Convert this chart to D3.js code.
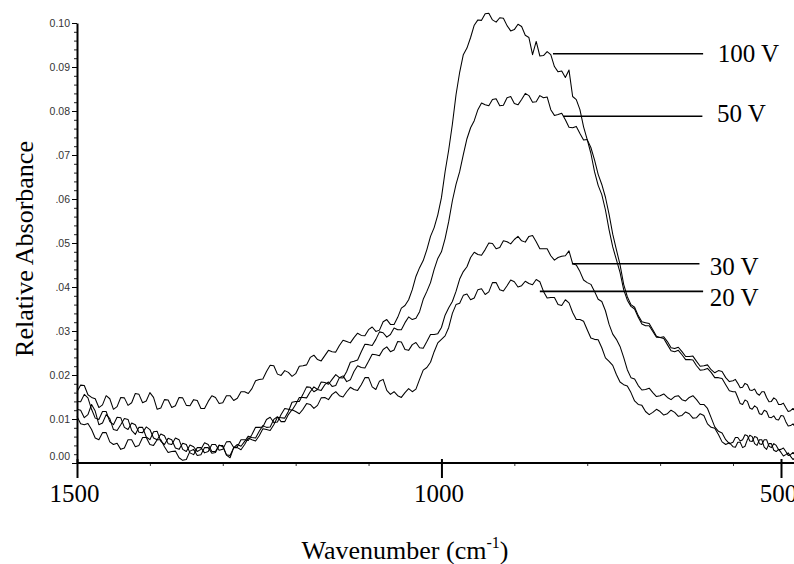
<!DOCTYPE html>
<html>
<head>
<meta charset="utf-8">
<script src="https://cdnjs.cloudflare.com/ajax/libs/d3/7.8.5/d3.min.js"></script>
<style>
  body { margin: 0; background: #fff; }
  svg { display: block; background: #fff; }
  .curve { fill: none; stroke: #000; stroke-width: 1.05; stroke-linejoin: round; }
</style>
</head>
<body>
<div id="chart"></div>
<script>
// ====== IR spectra, relative absorbance vs wavenumber ======

// sampling grid of the spectra (cm-1), 1500 down to 470 every 10
let wavenumbers = d3.range(1500, 465, -10);

let abs100 = [0.0162, 0.0176, 0.0149, 0.0126, 0.0153, 0.0122, 0.0149, 0.0131, 0.0158, 0.0137,
              0.0160, 0.0122, 0.0144, 0.0126, 0.0149, 0.0131, 0.0144, 0.0124, 0.0140, 0.0149,
              0.0137, 0.0153, 0.0147, 0.0162, 0.0169, 0.0190, 0.0208, 0.0221, 0.0199, 0.0206,
              0.0203, 0.0221, 0.0240, 0.0235, 0.0244, 0.0253, 0.0267, 0.0276, 0.0285, 0.0290,
              0.0303, 0.0299, 0.0321, 0.0315, 0.0331, 0.0358, 0.0394, 0.0444, 0.0485, 0.0535,
              0.0603, 0.0712, 0.0837, 0.0928, 0.0967, 0.1007, 0.1021, 0.1007, 0.1012, 0.0994,
              0.0985, 0.0992, 0.0967, 0.0958, 0.0926, 0.0928, 0.0889, 0.0876, 0.0833, 0.0803,
              0.0735, 0.0662, 0.0610, 0.0530, 0.0462, 0.0394, 0.0356, 0.0331, 0.0312, 0.0299,
              0.0285, 0.0276, 0.0260, 0.0253, 0.0242, 0.0231, 0.0221, 0.0212, 0.0210, 0.0194,
              0.0187, 0.0181, 0.0172, 0.0178, 0.0165, 0.0158, 0.0162, 0.0149, 0.0140, 0.0144,
              0.0133, 0.0126, 0.0119, 0.0117];
// readings half way between the grid points (1495 ... 475)
let abs100Mid = [0.0177, 0.0155, 0.0146, 0.0132, 0.0146, 0.0128, 0.0148, 0.0137, 0.0156, 0.0141,
                 0.0149, 0.0125, 0.0143, 0.0130, 0.0148, 0.0130, 0.0142, 0.0124, 0.0153, 0.0135,
                 0.0153, 0.0142, 0.0162, 0.0158, 0.0187, 0.0191, 0.0222, 0.0202, 0.0210, 0.0197,
                 0.0220, 0.0223, 0.0245, 0.0232, 0.0256, 0.0252, 0.0279, 0.0273, 0.0295, 0.0289,
                 0.0309, 0.0302, 0.0326, 0.0315, 0.0352, 0.0371, 0.0424, 0.0460, 0.0515, 0.0564,
                 0.0662, 0.0770, 0.0888, 0.0943, 0.0995, 0.1006, 0.1022, 0.1002, 0.1011, 0.0982,
                 0.0997, 0.0972, 0.0928, 0.0925, 0.0935, 0.0901, 0.0891, 0.0893, 0.0826, 0.0764,
                 0.0704, 0.0631, 0.0575, 0.0491, 0.0433, 0.0370, 0.0350, 0.0316, 0.0312, 0.0286,
                 0.0287, 0.0262, 0.0263, 0.0242, 0.0243, 0.0220, 0.0223, 0.0205, 0.0208, 0.0185,
                 0.0190, 0.0171, 0.0181, 0.0166, 0.0168, 0.0154, 0.0162, 0.0139, 0.0148, 0.0133,
                 0.0136, 0.0117, 0.0124];

let abs50 = [0.0140, 0.0156, 0.0122, 0.0099, 0.0117, 0.0087, 0.0103, 0.0076, 0.0087, 0.0069,
             0.0076, 0.0053, 0.0062, 0.0042, 0.0053, 0.0026, 0.0037, 0.0031, 0.0042, 0.0026,
             0.0037, 0.0017, 0.0035, 0.0042, 0.0053, 0.0062, 0.0076, 0.0087, 0.0103, 0.0117,
             0.0140, 0.0156, 0.0172, 0.0167, 0.0183, 0.0190, 0.0194, 0.0208, 0.0231, 0.0253,
             0.0269, 0.0281, 0.0296, 0.0292, 0.0303, 0.0319, 0.0326, 0.0344, 0.0390, 0.0440,
             0.0480, 0.0549, 0.0633, 0.0701, 0.0762, 0.0803, 0.0814, 0.0826, 0.0812, 0.0830,
             0.0817, 0.0826, 0.0835, 0.0821, 0.0830, 0.0803, 0.0792, 0.0780, 0.0762, 0.0749,
             0.0735, 0.0689, 0.0633, 0.0565, 0.0485, 0.0406, 0.0360, 0.0335, 0.0319, 0.0303,
             0.0285, 0.0269, 0.0253, 0.0246, 0.0235, 0.0221, 0.0212, 0.0206, 0.0194, 0.0178,
             0.0162, 0.0149, 0.0133, 0.0140, 0.0122, 0.0126, 0.0110, 0.0117, 0.0103, 0.0099,
             0.0108, 0.0094, 0.0085, 0.0081];
let abs50Mid = [0.0139, 0.0148, 0.0102, 0.0117, 0.0094, 0.0104, 0.0081, 0.0091, 0.0070, 0.0082,
                0.0057, 0.0066, 0.0044, 0.0057, 0.0031, 0.0041, 0.0026, 0.0046, 0.0026, 0.0041,
                0.0019, 0.0035, 0.0030, 0.0057, 0.0050, 0.0078, 0.0074, 0.0104, 0.0102, 0.0138,
                0.0140, 0.0173, 0.0162, 0.0184, 0.0179, 0.0201, 0.0193, 0.0229, 0.0234, 0.0270,
                0.0267, 0.0298, 0.0286, 0.0307, 0.0303, 0.0332, 0.0329, 0.0372, 0.0410, 0.0465,
                0.0510, 0.0596, 0.0662, 0.0737, 0.0778, 0.0818, 0.0812, 0.0828, 0.0813, 0.0833,
                0.0814, 0.0840, 0.0820, 0.0835, 0.0832, 0.0790, 0.0795, 0.0763, 0.0765, 0.0734,
                0.0717, 0.0656, 0.0604, 0.0520, 0.0451, 0.0378, 0.0354, 0.0321, 0.0317, 0.0288,
                0.0283, 0.0255, 0.0256, 0.0235, 0.0234, 0.0211, 0.0215, 0.0194, 0.0192, 0.0164,
                0.0162, 0.0135, 0.0143, 0.0125, 0.0130, 0.0112, 0.0120, 0.0104, 0.0107, 0.0098,
                0.0107, 0.0084, 0.0089];

let abs30 = [0.0122, 0.0103, 0.0133, 0.0087, 0.0110, 0.0076, 0.0087, 0.0099, 0.0065, 0.0081,
             0.0053, 0.0072, 0.0042, 0.0053, 0.0031, 0.0042, 0.0019, 0.0035, 0.0026, 0.0042,
             0.0031, 0.0049, 0.0037, 0.0053, 0.0065, 0.0081, 0.0099, 0.0092, 0.0110, 0.0122,
             0.0133, 0.0149, 0.0162, 0.0167, 0.0178, 0.0174, 0.0194, 0.0185, 0.0208, 0.0217,
             0.0231, 0.0246, 0.0258, 0.0253, 0.0276, 0.0258, 0.0269, 0.0262, 0.0276, 0.0292,
             0.0308, 0.0353, 0.0390, 0.0435, 0.0467, 0.0474, 0.0485, 0.0499, 0.0490, 0.0503,
             0.0508, 0.0505, 0.0515, 0.0503, 0.0487, 0.0471, 0.0467, 0.0471, 0.0453, 0.0435,
             0.0410, 0.0390, 0.0367, 0.0315, 0.0281, 0.0240, 0.0194, 0.0176, 0.0167, 0.0160,
             0.0153, 0.0149, 0.0151, 0.0144, 0.0149, 0.0144, 0.0133, 0.0103, 0.0072, 0.0053,
             0.0047, 0.0058, 0.0053, 0.0062, 0.0049, 0.0058, 0.0042, 0.0053, 0.0035, 0.0040,
             0.0031, 0.0026, 0.0019, 0.0017];
let abs30Mid = [0.0120, 0.0110, 0.0118, 0.0091, 0.0101, 0.0074, 0.0101, 0.0074, 0.0081, 0.0059,
                0.0071, 0.0049, 0.0056, 0.0034, 0.0045, 0.0023, 0.0035, 0.0023, 0.0042, 0.0029,
                0.0048, 0.0035, 0.0053, 0.0051, 0.0081, 0.0082, 0.0104, 0.0093, 0.0124, 0.0120,
                0.0149, 0.0148, 0.0173, 0.0165, 0.0184, 0.0176, 0.0198, 0.0189, 0.0221, 0.0216,
                0.0247, 0.0244, 0.0264, 0.0257, 0.0275, 0.0256, 0.0274, 0.0261, 0.0292, 0.0294,
                0.0336, 0.0367, 0.0418, 0.0446, 0.0479, 0.0472, 0.0500, 0.0487, 0.0505, 0.0498,
                0.0515, 0.0502, 0.0517, 0.0487, 0.0487, 0.0461, 0.0470, 0.0482, 0.0450, 0.0416,
                0.0406, 0.0372, 0.0346, 0.0293, 0.0265, 0.0212, 0.0191, 0.0166, 0.0170, 0.0151,
                0.0157, 0.0144, 0.0153, 0.0141, 0.0153, 0.0133, 0.0124, 0.0082, 0.0068, 0.0044,
                0.0058, 0.0050, 0.0064, 0.0050, 0.0060, 0.0044, 0.0053, 0.0038, 0.0044, 0.0030,
                0.0034, 0.0017, 0.0024];

let abs20 = [0.0106, 0.0087, 0.0076, 0.0053, 0.0069, 0.0042, 0.0031, 0.0053, 0.0037, 0.0058,
             0.0042, 0.0053, 0.0037, 0.0026, 0.0012, 0.0008, 0.0031, 0.0019, 0.0035, 0.0024,
             0.0040, 0.0012, 0.0042, 0.0049, 0.0058, 0.0072, 0.0081, 0.0099, 0.0094, 0.0110,
             0.0117, 0.0122, 0.0133, 0.0131, 0.0149, 0.0156, 0.0153, 0.0162, 0.0167, 0.0178,
             0.0194, 0.0167, 0.0190, 0.0156, 0.0153, 0.0160, 0.0162, 0.0190, 0.0217, 0.0253,
             0.0281, 0.0308, 0.0360, 0.0381, 0.0371, 0.0394, 0.0383, 0.0410, 0.0394, 0.0403,
             0.0412, 0.0403, 0.0408, 0.0417, 0.0390, 0.0376, 0.0360, 0.0371, 0.0342, 0.0326,
             0.0303, 0.0281, 0.0262, 0.0231, 0.0201, 0.0178, 0.0160, 0.0133, 0.0117, 0.0115,
             0.0117, 0.0112, 0.0115, 0.0108, 0.0112, 0.0103, 0.0108, 0.0081, 0.0065, 0.0042,
             0.0037, 0.0047, 0.0035, 0.0053, 0.0060, 0.0040, 0.0053, 0.0031, 0.0044, 0.0026,
             0.0024, 0.0019, 0.0015, 0.0012];
let abs20Mid = [0.0089, 0.0090, 0.0057, 0.0069, 0.0048, 0.0045, 0.0034, 0.0053, 0.0040, 0.0058,
                0.0040, 0.0053, 0.0024, 0.0027, 0.0006, 0.0027, 0.0017, 0.0035, 0.0022, 0.0040,
                0.0018, 0.0035, 0.0038, 0.0061, 0.0057, 0.0085, 0.0082, 0.0105, 0.0094, 0.0121,
                0.0112, 0.0135, 0.0124, 0.0148, 0.0144, 0.0162, 0.0150, 0.0172, 0.0165, 0.0194,
                0.0173, 0.0186, 0.0165, 0.0162, 0.0149, 0.0169, 0.0168, 0.0211, 0.0229, 0.0273,
                0.0289, 0.0340, 0.0363, 0.0384, 0.0375, 0.0396, 0.0389, 0.0410, 0.0391, 0.0416,
                0.0400, 0.0413, 0.0405, 0.0412, 0.0375, 0.0376, 0.0358, 0.0364, 0.0326, 0.0322,
                0.0284, 0.0280, 0.0239, 0.0222, 0.0184, 0.0175, 0.0141, 0.0131, 0.0110, 0.0122,
                0.0109, 0.0120, 0.0106, 0.0116, 0.0102, 0.0112, 0.0089, 0.0079, 0.0048, 0.0046,
                0.0036, 0.0047, 0.0038, 0.0063, 0.0044, 0.0053, 0.0036, 0.0044, 0.0029, 0.0031,
                0.0016, 0.0023, 0.0008];

let seriesNames = ["100 V", "50 V", "30 V", "20 V"];

let yTicks = [0, 0.01, 0.02, 0.03, 0.04, 0.05, 0.06, 0.07, 0.08, 0.09, 0.10];
let yTickLabels = ["0.00", "0.01", "0.02", ".03", ".04", ".05", ".06", ".07", "0.08", "0.09", "0.10"];
let xTicks = [1500, 1000, 500];
let xTickLabels = ["1500", "1000", "500"];
let xMinorTicks = [1400, 1300, 1200, 1100, 900, 800, 700, 600];

// where each leader line meets its curve, and where the line ends / label starts (in data units)
let leaders = [
    {from: 847, to: 641, level: 0.0930, textAt: 621, textLevel: 0.0912},
    {from: 833, to: 642, level: 0.0788, textAt: 622, textLevel: 0.0776},
    {from: 821, to: 646, level: 0.0453, textAt: 632, textLevel: 0.0428},
    {from: 865, to: 641, level: 0.0390, textAt: 632, textLevel: 0.0356}
];

let serifFont = "'Liberation Serif', 'Times New Roman', Times, serif";
let sansFont = "'Liberation Sans', Arial, Helvetica, sans-serif";

let width = 794, height = 564;

let svg = d3.select("#chart").append("svg")
    .attr("width", width)
    .attr("height", height);

// x is squeezed after 600 (the 500 tick sits close to the edge)
let x = d3.scaleLinear()
    .domain([1500, 600, 500])
    .range([77, 733, 781]);
let y = d3.scaleLinear()
    .domain([0, 0.10])
    .range([463, 23]);

// minor y ticks
let yMinor = d3.range(0, 0.1001, 0.002).filter(function(v) {
    return Math.abs(v * 100 - Math.round(v * 100)) > 1e-6;
});
svg.append("g")
    .attr("transform", "translate(" + x(1500) + ",0)")
    .call(d3.axisLeft(y).tickValues(yMinor).tickSize(3).tickSizeOuter(0).tickFormat(""))
    .call(function(g) { g.select(".domain").remove(); })
    .selectAll("line").attr("stroke", "#222");

// y axis
let yAxis = svg.append("g")
    .attr("transform", "translate(" + x(1500) + ",0)")
    .call(d3.axisLeft(y)
        .tickValues(yTicks)
        .tickSize(5)
        .tickSizeOuter(0)
        .tickPadding(2)
        .tickFormat(function(d, i) { return yTickLabels[i]; }));
yAxis.select(".domain").attr("stroke-width", 2);
yAxis.selectAll(".tick text")
    .style("font-family", sansFont)
    .style("font-size", "10.5px")
    .attr("fill", "#333")
    .attr("dy", function(d) { return d === 0 ? "-0.35em" : "0.32em"; });

// x axis: minor ticks
svg.append("g")
    .attr("transform", "translate(0," + y(0) + ")")
    .call(d3.axisBottom(x).tickValues(xMinorTicks).tickSize(3).tickSizeOuter(0).tickFormat(""))
    .call(function(g) { g.select(".domain").remove(); })
    .selectAll("line").attr("stroke", "#333");

// x axis: major ticks
let xAxis = svg.append("g")
    .attr("transform", "translate(0," + y(0) + ")")
    .call(d3.axisBottom(x)
        .tickValues(xTicks)
        .tickSize(15)
        .tickSizeOuter(0)
        .tickFormat(function(d, i) { return xTickLabels[i]; }));
xAxis.select(".domain")
    .attr("d", "M" + x(1500) + ",0H" + width)
    .attr("stroke-width", 2);
xAxis.selectAll(".tick line")
    .attr("y1", -4)
    .attr("stroke-width", 2);
xAxis.selectAll(".tick text")
    .style("font-family", serifFont)
    .style("font-size", "25px")
    .attr("fill", "#000")
    .attr("y", 39)
    .attr("dy", 0)
    .attr("dx", -3);

// spectra: grid readings interleaved with the half-way readings
let line = d3.line()
    .x(function(d) { return x(d.w); })
    .y(function(d) { return y(d.a); });

[[abs100, abs100Mid], [abs50, abs50Mid], [abs30, abs30Mid], [abs20, abs20Mid]].forEach(function(pair) {
    let pts = [];
    pair[0].forEach(function(a, i) {
        pts.push({w: wavenumbers[i], a: a});
        if (i < pair[1].length) pts.push({w: wavenumbers[i] - 5, a: pair[1][i]});
    });
    svg.append("path")
        .datum(pts)
        .attr("class", "curve")
        .attr("d", line);
});

// leader lines and labels
leaders.forEach(function(d, i) {
    svg.append("line")
        .attr("x1", x(d.from))
        .attr("x2", x(d.to))
        .attr("y1", y(d.level))
        .attr("y2", y(d.level))
        .attr("stroke", "#000")
        .attr("stroke-width", 1.6);
    svg.append("text")
        .attr("x", x(d.textAt))
        .attr("y", y(d.textLevel))
        .style("font-family", serifFont)
        .style("font-size", "25px")
        .attr("fill", "#000")
        .text(seriesNames[i]);
});

// axis titles
svg.append("text")
    .attr("transform", "rotate(-90)")
    .attr("x", -249)
    .attr("y", 33)
    .style("font-family", serifFont)
    .style("font-size", "26px")
    .attr("fill", "#000")
    .style("text-anchor", "middle")
    .text("Relative Absorbance");

let xt = svg.append("text")
    .attr("x", 405)
    .attr("y", 559)
    .style("font-family", serifFont)
    .style("font-size", "26px")
    .attr("fill", "#000")
    .style("text-anchor", "middle");
xt.append("tspan").text("Wavenumber (cm");
xt.append("tspan").style("font-size", "16px").attr("dy", -11).text("-1");
xt.append("tspan").attr("dy", 11).text(")");
</script>
</body>
</html>
